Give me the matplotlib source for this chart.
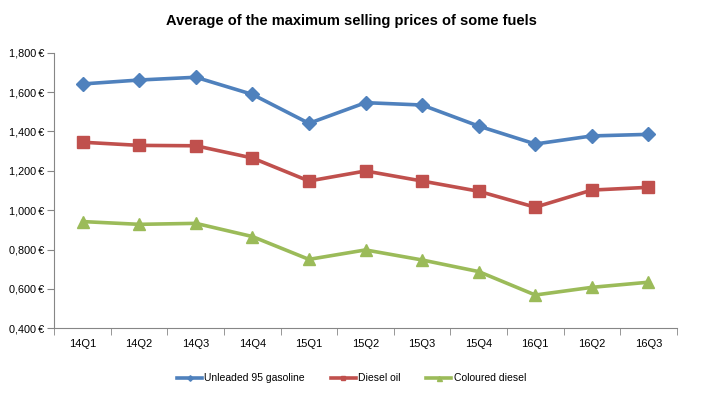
import matplotlib
matplotlib.use("Agg")
import matplotlib.pyplot as plt
from matplotlib.ticker import FuncFormatter, FixedLocator
import numpy as np

plt.rcParams['font.family'] = ['Liberation Sans', 'DejaVu Sans']

categories = ["14Q1", "14Q2", "14Q3", "14Q4", "15Q1", "15Q2", "15Q3", "15Q4", "16Q1", "16Q2", "16Q3"]
unleaded = [1.641, 1.661, 1.675, 1.588, 1.441, 1.546, 1.534, 1.427, 1.336, 1.377, 1.385]
diesel = [1.345, 1.329, 1.327, 1.265, 1.148, 1.199, 1.148, 1.096, 1.015, 1.102, 1.116]
coloured = [0.942, 0.928, 0.933, 0.866, 0.750, 0.798, 0.747, 0.688, 0.569, 0.608, 0.634]
yticks = [0.4, 0.6, 0.8, 1.0, 1.2, 1.4, 1.6, 1.8]


def euro(v, p):
    whole = int(v + 1e-9)
    frac = round((v - whole) * 1000)
    return "%d,%03d\u2009€" % (whole, frac)


fig = plt.figure(figsize=(7.03, 4.05), dpi=100)
ax = fig.add_axes([0.0773, 0.1894, 0.8853, 0.6806])
x = np.arange(len(categories))
ax.plot(x, unleaded, color="#4F81BD", lw=2.6, marker="D", ms=7, label="Unleaded 95 gasoline")
ax.plot(x, diesel, color="#C0504D", lw=2.6, marker="s", ms=8, label="Diesel oil")
ax.plot(x, coloured, color="#9BBB59", lw=2.6, marker="^", ms=9, label="Coloured diesel")

ax.set_xlim(-0.5, len(categories) - 0.5)
ax.set_ylim(0.4, 1.8)
ax.set_yticks(yticks)
ax.yaxis.set_major_formatter(FuncFormatter(euro))
ax.set_xticks(x)
ax.set_xticklabels(categories)
ax.xaxis.set_minor_locator(FixedLocator(np.arange(-0.5, len(categories), 1.0)))
ax.tick_params(axis="x", which="major", length=0, pad=8, labelsize=8)
ax.tick_params(axis="x", which="minor", length=5, color="#868686", direction="out")
ax.tick_params(axis="y", length=5, color="#868686", direction="out", labelsize=7.8, pad=2)
for s in ["top", "right"]:
    ax.spines[s].set_visible(False)
for s in ["left", "bottom"]:
    ax.spines[s].set_color("#868686")

fig.text(0.5, 0.948, "Average of the maximum selling prices of some fuels", ha="center", va="center",
         fontsize=10.5, fontweight="bold")
leg = fig.legend(loc="center", bbox_to_anchor=(0.5, 0.066), ncol=3, frameon=False, fontsize=7.5,
                 markerscale=0.4, handlelength=2.4, handletextpad=0.2, columnspacing=2.5)
plt.savefig("out.png", dpi=100)
